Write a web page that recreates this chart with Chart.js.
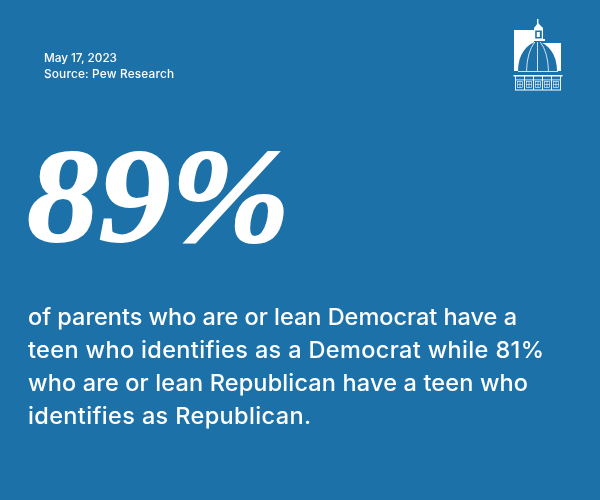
<!DOCTYPE html>
<html>
<head>
<meta charset="utf-8">
<style>
  html, body { margin: 0; padding: 0; background: #1c71a8; }
  #wrap { position: relative; width: 600px; height: 500px; }
</style>
<script src="https://cdn.jsdelivr.net/npm/chart.js@4"></script>
</head>
<body>
<div id="wrap"><canvas id="card" width="600" height="500"></canvas></div>
<script>
const dateLines = ['May 17, 2023', 'Source: Pew Research'];
const headline = ['89%'];
const bodyLines = [
  'of parents who are or lean Democrat have a',
  'teen who identifies as a Democrat while 81%',
  'who are or lean Republican have a teen who',
  'identifies as Republican.'
];
const bg = '#1c71a8';

// 글자 폭을 원본에 맞춤 (자간 조정)
function fitText(c, text, x, y, width) {
  c.letterSpacing = '0px';
  const gap = (width - c.measureText(text).width) / (text.length - 1);
  c.letterSpacing = gap.toFixed(3) + 'px';
  c.fillText(text, x, y);
  c.letterSpacing = '0px';
}

// 로고 (돔 건물)
function drawLogo(c) {
  const cx = 537.5;
  c.save();
  c.fillStyle = '#ffffff';
  c.fillRect(514, 30, 20, 16);
  c.fillRect(514, 43, 47, 30);
  // 돔
  c.fillStyle = bg;
  c.beginPath();
  c.moveTo(518, 71);
  c.bezierCurveTo(518, 54, 527, 44, cx, 41);
  c.bezierCurveTo(548, 44, 557, 54, 557, 71);
  c.closePath();
  c.fill();
  c.strokeStyle = '#ffffff';
  c.lineWidth = 0.8;
  [-11, 0, 11].forEach(b => {
    c.beginPath();
    c.moveTo(cx + b, 71);
    c.quadraticCurveTo(cx + b * 0.95, 52, cx + b * 0.25, 42);
    c.stroke();
  });
  // 큐폴라
  c.fillStyle = '#ffffff';
  c.fillRect(534, 28, 9, 12);
  c.fillRect(531, 39, 14, 2);
  c.fillStyle = bg;
  c.fillRect(535.2, 30.5, 6.6, 8);
  c.fillStyle = '#ffffff';
  c.fillRect(536.8, 32, 3, 5);
  c.fillRect(537, 19, 1.4, 6);
  c.beginPath();
  c.moveTo(534, 28); c.lineTo(538, 23); c.lineTo(543, 28); c.closePath(); c.fill();
  // 기단
  c.fillStyle = bg;
  c.fillRect(514, 71, 48, 5);
  c.fillStyle = '#ffffff';
  c.fillRect(518, 71, 40, 0.8);
  c.fillRect(513.5, 75, 49, 1.5);
  c.fillRect(515, 79.5, 46, 0.8);
  c.fillRect(515, 89.5, 46, 1);
  for (let i = 0; i < 6; i++) c.fillRect(515 + i * 9, 76, 0.9, 14);
  c.strokeStyle = '#ffffff';
  c.lineWidth = 0.6;
  for (let i = 0; i < 5; i++) {
    c.strokeRect(517.5 + i * 9, 81.5, 5, 6);
    c.fillRect(519.7 + i * 9, 81.5, 0.6, 6);
    c.fillRect(517.5 + i * 9, 84.2, 5, 0.6);
  }
  c.restore();
}

// 차트 대신 텍스트 카드: 플러그인으로 글자 그리기
const cardText = {
  id: 'cardText',
  afterDraw(chart) {
    const c = chart.ctx;
    c.save();
    c.fillStyle = '#ffffff';
    c.textBaseline = 'alphabetic';
    c.font = '500 11.8px Inter, "Open Sans", sans-serif';
    fitText(c, dateLines[0], 44, 62, 73);
    fitText(c, dateLines[1], 44, 78, 130);

    c.save();
    c.translate(27, 241);
    c.scale(1.07, 1);
    c.font = 'italic bold 134px "Liberation Serif", serif';
    c.lineWidth = 1.8;
    c.strokeStyle = '#ffffff';
    c.fillText(headline[0], 0, 0);
    c.strokeText(headline[0], 0, 0);
    c.restore();

    c.font = '500 23.5px Inter, "Open Sans", sans-serif';
    const ends = [517, 544, 528, 311];
    bodyLines.forEach((t, i) => fitText(c, t, 28, 325 + i * 33, ends[i] - 28));
    drawLogo(c);
    c.restore();
  }
};

new Chart(document.getElementById('card').getContext('2d'), {
  type: 'bar',
  data: { labels: [], datasets: [] },
  options: {
    responsive: false,
    animation: false,
    plugins: { legend: { display: false }, tooltip: { enabled: false } },
    scales: { x: { display: false }, y: { display: false } }
  },
  plugins: [cardText]
});
</script>
</body>
</html>
